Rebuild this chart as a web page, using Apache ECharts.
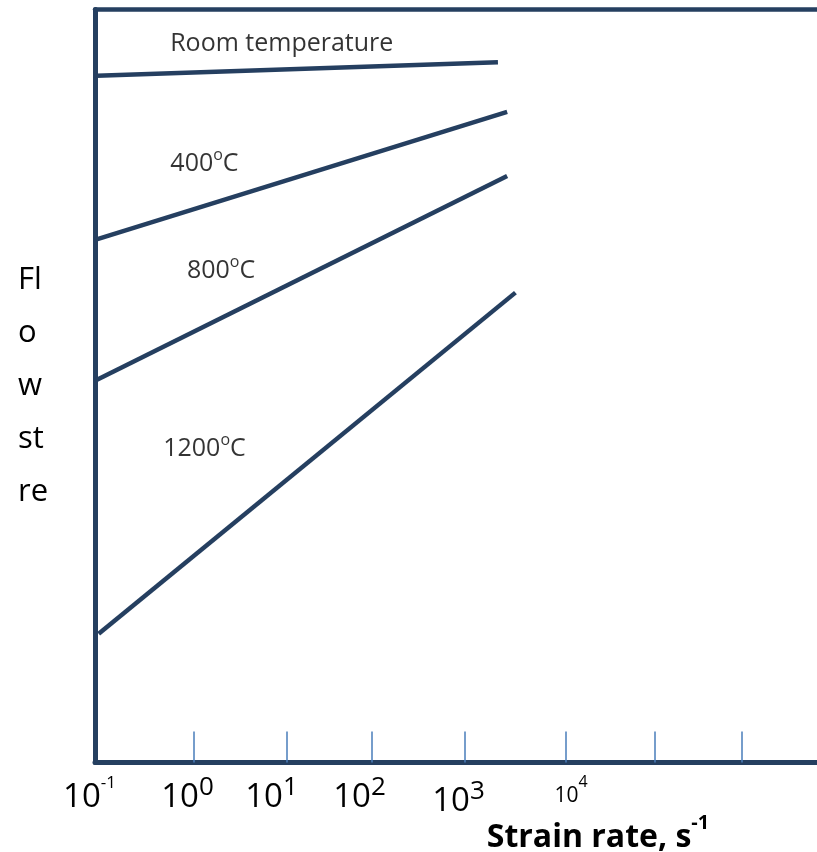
<!DOCTYPE html>
<html>
<head>
<meta charset="utf-8">
<script src="https://cdn.jsdelivr.net/npm/echarts@6/dist/echarts.min.js"></script>
<style>
  html, body { margin: 0; padding: 0; background: #fff; }
  #chart { width: 817px; height: 852px; }
</style>
</head>
<body>
<div id="chart"></div>
<script>
// x = log10(strain rate), y = flow stress (arbitrary units, 0..100)
const tickPos = [0.07, 1.08, 2.01, 3.02, 4.12, 5.08, 6.03];
const labelPos = [-1, 0.005, 0.918, 1.875, 2.951, 4.174];
const labelText = ["{b|10}{sm|-1}{gap|}", "{b|10}{s|0}", "{b|10}{s|1}", "{b|10}{s|2}", "{b3|10}{s3|3}", "{b4|10}{s4|4}"];

const tempNames = ["{t|Room temperature}", "{t|400}{d|o}{t|C}", "{t|800}{d|o}{t|C}", "{t|1200}{d|o}{t|C}"];
const lineStartX = [-0.98, -1, -1, -0.96];
const lineStartY = [91.2, 69.4, 50.7, 17.1];
const lineEndX = [3.38, 3.48, 3.48, 3.57];
const lineEndY = [93.0, 86.4, 77.9, 62.4];
const tempLabelX = [1.03, 0.19, 0.37, 0.19];
const tempLabelY = [95.4, 79.5, 65.3, 41.6];

const INK = "#253f60";
const TICK = "#4a7ebb";
const FONT = "'Open Sans', 'Noto Sans', sans-serif";

const chart = echarts.init(document.getElementById("chart"));

const series = tempNames.map((name, i) => ({
  type: "line",
  name: "t" + i,
  data: [[lineStartX[i], lineStartY[i]], [lineEndX[i], lineEndY[i]]],
  showSymbol: false,
  silent: true,
  lineStyle: { color: INK, width: 4.5 },
}));

series.push({
  type: "scatter",
  symbolSize: 0,
  silent: true,
  data: tempNames.map((n, i) => ({ value: [tempLabelX[i], tempLabelY[i]], name: n })),
  label: {
    show: true,
    position: "inside",
    formatter: (p) => p.name,
    color: "#000",
    fontFamily: FONT,
    fontSize: 25,
    rich: {
      t: { fontSize: 25, lineHeight: 25, verticalAlign: "bottom", fontFamily: FONT, color: "#000" },
      d: { fontSize: 16, lineHeight: 16, verticalAlign: "bottom", padding: [0, 0, 13, 0], fontFamily: FONT, color: "#000" },
    },
  },
});

chart.setOption({
  animation: false,
  grid: { left: 95, right: 0, top: 9.5, bottom: 89.5, outerBoundsMode: "none", containLabel: false },
  xAxis: [
    {
      type: "value",
      position: "bottom",
      min: -1,
      max: 6.848,
      splitLine: { show: false },
      axisLine: { show: true, onZero: false, lineStyle: { color: INK, width: 5 } },
      axisTick: {
        show: true,
        inside: true,
        length: 31,
        customValues: tickPos,
        lineStyle: { color: TICK, width: 1.5 },
      },
      axisLabel: {
        show: true,
        customValues: labelPos,
        margin: 12,
        color: "#000",
        fontFamily: FONT,
        formatter: (v) => {
          const i = labelPos.indexOf(v);
          return i >= 0 ? labelText[i] : "";
        },
        rich: {
          b: { fontSize: 33, lineHeight: 40, verticalAlign: "bottom", fontFamily: FONT, color: "#000" },
          b3: { fontSize: 33, lineHeight: 44, verticalAlign: "bottom", fontFamily: FONT, color: "#000" },
          b4: { fontSize: 21, lineHeight: 32, verticalAlign: "bottom", fontFamily: FONT, color: "#000" },
          s: { fontSize: 26, lineHeight: 26, verticalAlign: "top", fontFamily: FONT, color: "#000" },
          s3: { fontSize: 26, lineHeight: 30, verticalAlign: "top", fontFamily: FONT, color: "#000", padding: [4, 0, 0, 0] },
          s4: { fontSize: 16, lineHeight: 16, verticalAlign: "top", fontFamily: FONT, color: "#000" },
          sm: { fontSize: 17, lineHeight: 17, verticalAlign: "top", fontFamily: FONT, color: "#000" },
          gap: { width: 11 },
        },
      },
      name: "{b|Strain rate, s}{s|-1}",
      nameLocation: "middle",
      nameGap: 51,
      nameMoveOverlap: false,
      nameTextStyle: {
        padding: [0, 0, 0, 284],
        rich: {
          b: { fontSize: 32, fontWeight: "bold", lineHeight: 40, verticalAlign: "bottom", fontFamily: FONT, color: "#000" },
          s: { fontSize: 20, fontWeight: "bold", lineHeight: 19, verticalAlign: "top", fontFamily: FONT, color: "#000" },
        },
      },
    },
    {
      type: "value",
      position: "top",
      min: -1,
      max: 6.848,
      splitLine: { show: false },
      axisLine: { show: true, onZero: false, lineStyle: { color: INK, width: 4.5 } },
      axisTick: { show: false },
      axisLabel: { show: false },
    },
  ],
  yAxis: {
    type: "value",
    min: 0,
    max: 100,
    splitLine: { show: false },
    axisLine: { show: true, onZero: false, lineStyle: { color: INK, width: 5 } },
    axisTick: { show: false },
    axisLabel: { show: false },
    name: "Fl\no\nw\nst\nre",
    nameLocation: "middle",
    nameRotate: 0,
    nameGap: 77,
    nameMoveOverlap: false,
    nameTextStyle: {
      align: "left",
      verticalAlign: "middle",
      fontFamily: FONT,
      fontSize: 31,
      lineHeight: 53,
      color: "#000",
      padding: [32, 0, 0, 0],
    },
  },
  series,
});

window.addEventListener("resize", () => chart.resize());
</script>
</body>
</html>
